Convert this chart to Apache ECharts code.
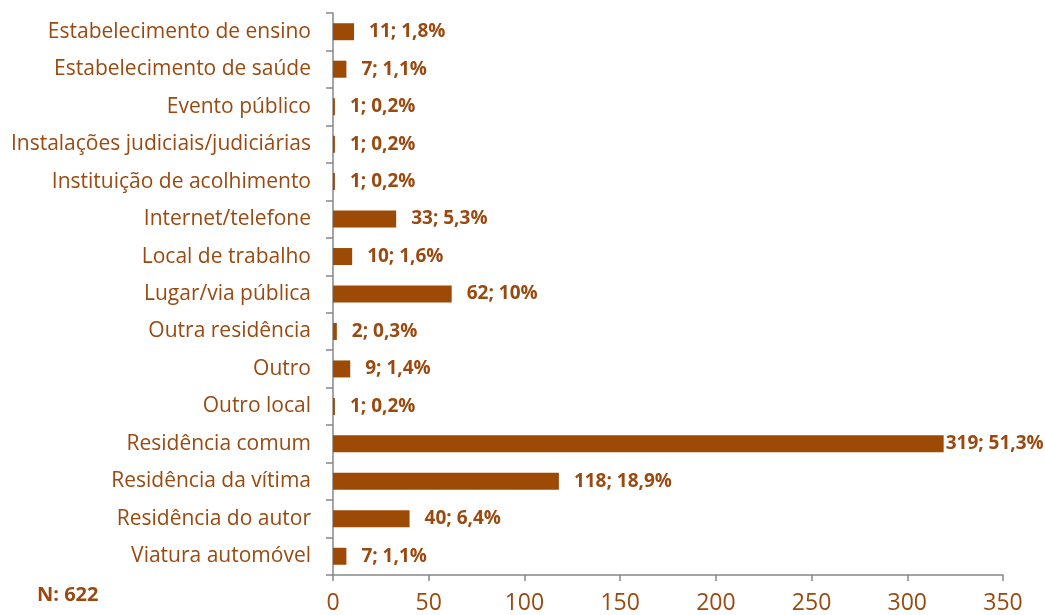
<!DOCTYPE html>
<html><head><meta charset="utf-8">
<script src="https://cdn.jsdelivr.net/npm/echarts@6/dist/echarts.min.js"></script>
<style>html,body{margin:0;padding:0;background:#fff}#c{width:1045px;height:615px}</style>
</head><body><div id="c"></div>
<script>
const categories = ["Estabelecimento de ensino","Estabelecimento de saúde","Evento público","Instalações judiciais/judiciárias","Instituição de acolhimento","Internet/telefone","Local de trabalho","Lugar/via pública","Outra residência","Outro","Outro local","Residência comum","Residência da vítima","Residência do autor","Viatura automóvel"];
const counts = [11,7,1,1,1,33,10,62,2,9,1,319,118,40,7];
const percents = ["1,8%","1,1%","0,2%","0,2%","0,2%","5,3%","1,6%","10%","0,3%","1,4%","0,2%","51,3%","18,9%","6,4%","1,1%"];
const xTicks = [0,50,100,150,200,250,300,350];
const total = "N: 622";
const brown = '#9C4A06';
const txt = '#9A4A10';
const font = '"Open Sans", sans-serif';
const chart = echarts.init(document.getElementById('c'));
chart.setOption({
  animation:false,
  grid:{left:333,right:42,top:13,bottom:40},
  xAxis:{type:'value',min:xTicks[0],max:xTicks[xTicks.length-1],interval:50,
    axisLine:{show:true,lineStyle:{color:'#888',width:1.5}},
    axisTick:{show:true,length:6,lineStyle:{color:'#888',width:1.5}},
    splitLine:{show:false},
    axisLabel:{color:txt,fontSize:23,fontFamily:font,margin:17}},
  yAxis:{type:'category',inverse:true,data:categories,
    axisLine:{lineStyle:{color:'#888',width:1.5}},
    axisTick:{show:true,length:7,alignWithLabel:false,lineStyle:{color:'#888',width:1.5}},
    axisLabel:{color:txt,fontSize:21,fontFamily:font,margin:22}},
  graphic:[{type:'text',left:37,top:585,style:{text:total,fill:txt,font:'bold 20px '+font}}],
  series:[{type:'bar',barWidth:17,
    data:counts.map((v,i)=>({value:v,label:{distance: v>300?2:15}})),
    itemStyle:{color:brown},
    label:{show:true,position:'right',color:txt,fontWeight:'bold',fontSize:19,fontFamily:font,
      formatter:p=>counts[p.dataIndex]+'; '+percents[p.dataIndex]}}]
});
</script></body></html>
